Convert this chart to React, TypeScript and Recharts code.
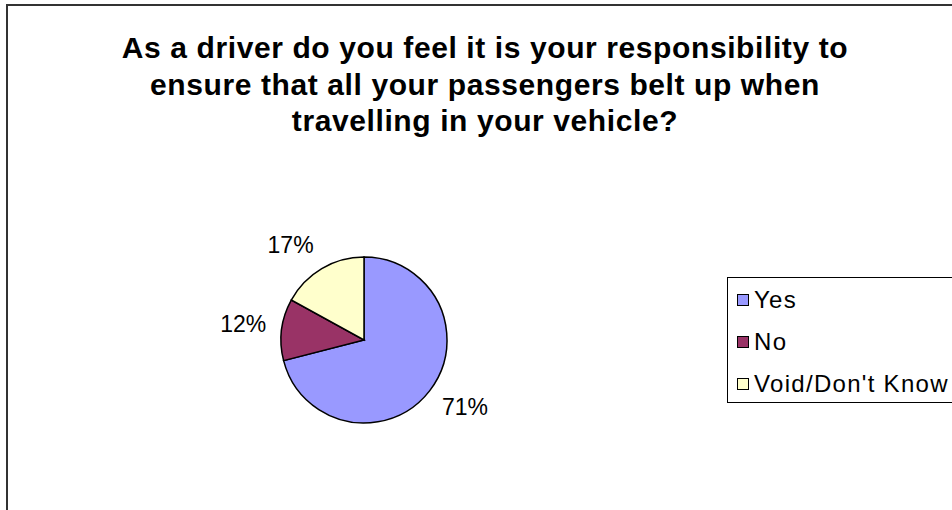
import { Legend, Pie, PieChart, Cell } from "recharts"

const categories = ["Yes", "No", "Void/Don't Know"]
const shares = [71, 12, 17]
const colors = ["#9999FF", "#993366", "#FFFFCC"]
const titleLines = [
  "As a driver do you feel it is your responsibility to",
  "ensure that all your passengers belt up when",
  "travelling in your vehicle?",
]

const data = categories.map((name, i) => ({ name, value: shares[i] }))

const RADIAN = Math.PI / 180
const FONT = "Arial, 'Liberation Sans', sans-serif"

// Excel-ish label placement: text box sits just outside the rim, pushed away along the angle
const renderLabel = ({ cx, cy, midAngle, outerRadius, percent }: any) => {
  const r = outerRadius + 15
  const cos = Math.cos(-midAngle * RADIAN)
  const sin = Math.sin(-midAngle * RADIAN)
  const hw = 23.5
  const hh = 8.5
  const x = cx + r * cos + Math.sign(cos) * hw * Math.min(1, 2 * Math.abs(cos))
  const y = cy + r * sin + Math.sign(sin) * hh * Math.min(1, 2 * Math.abs(sin)) - 2
  return (
    <text x={x} y={y} textAnchor="middle" dominantBaseline="central" fill="#000" fontSize={23} fontFamily={FONT}>
      {Math.round(percent * 100)}%
    </text>
  )
}

const LegendBox = () => (
  <div style={{ border: "1px solid #000", background: "#fff", width: 260, height: 126, boxSizing: "border-box", padding: "1px 0 0 9px", fontFamily: FONT }}>
    {categories.map((c, i) => (
      <div key={c} style={{ display: "flex", alignItems: "center", height: 42, fontSize: 24, letterSpacing: 1.3 }}>
        <span style={{ width: 10, height: 10, background: colors[i], border: "1px solid #000", marginRight: 5, display: "inline-block" }} />
        <span style={{ whiteSpace: "nowrap" }}>{c}</span>
      </div>
    ))}
  </div>
)

export default function App() {
  return (
    <div style={{ position: "absolute", left: 0, top: 0, width: 952, height: 510, overflow: "hidden", background: "#fff" }}>
      <div style={{ position: "absolute", left: 6, top: 4, width: 1000, height: 600, border: "2px solid #333" }} />
      <div style={{ position: "absolute", left: 6, top: 30, width: 958, textAlign: "center", fontFamily: FONT, fontWeight: "bold", fontSize: 30, letterSpacing: 0.6, lineHeight: "36.5px", color: "#000" }}>
        {titleLines.map((l) => (
          <div key={l}>{l}</div>
        ))}
      </div>
      <PieChart width={952} height={510} margin={{ top: 0, right: 0, bottom: 0, left: 0 }} style={{ position: "absolute", left: 0, top: 0 }}>
        <Pie
          data={data}
          dataKey="value"
          nameKey="name"
          cx={364}
          cy={340}
          outerRadius={83}
          startAngle={90}
          endAngle={-270}
          stroke="#000"
          strokeWidth={1.5}
          label={renderLabel}
          labelLine={false}
          isAnimationActive={false}
        >
          {data.map((d, i) => (
            <Cell key={d.name} fill={colors[i]} />
          ))}
        </Pie>
        <Legend content={<LegendBox />} wrapperStyle={{ position: "absolute", left: 727, top: 277, width: "auto" }} />
      </PieChart>
    </div>
  )
}
